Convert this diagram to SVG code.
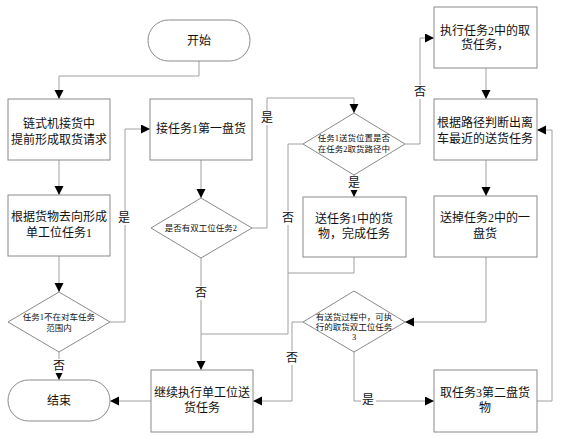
<svg xmlns="http://www.w3.org/2000/svg" width="561" height="438" viewBox="0 0 561 438">
<style>
.n{fill:#fff;stroke:#8a8a8a;stroke-width:1}
.t{font-family:"Liberation Serif","Noto Sans CJK SC",serif;font-size:12px;fill:#111;text-anchor:middle;dominant-baseline:central}
.s{font-family:"Liberation Serif","Noto Sans CJK SC",serif;font-size:8.5px;fill:#111;text-anchor:middle;dominant-baseline:central}
.c{fill:none;stroke:#a0a0a0;stroke-width:1}
.lb{font-family:"Liberation Serif","Noto Sans CJK SC",serif;font-size:12px;fill:#111;text-anchor:middle;dominant-baseline:central}
</style>
<defs>
<marker id="a" markerUnits="userSpaceOnUse" markerWidth="10" markerHeight="10" refX="9" refY="4.5" orient="auto">
<path d="M0,0 L9,4.5 L0,9 z" fill="#000"/>
</marker>
</defs>
<rect width="561" height="438" fill="#fff"/>
<g id="connectors">
<path class="c" d="M199,61 V76 H59 V99" marker-end="url(#a)"/>
<path class="c" d="M59,160 V195" marker-end="url(#a)"/>
<path class="c" d="M59,256 V292" marker-end="url(#a)"/>
<path class="c" d="M110,322 H125 V129 H150" marker-end="url(#a)"/>
<path class="c" d="M59,352 V380" marker-end="url(#a)"/>
<path class="c" d="M201,160 V198" marker-end="url(#a)"/>
<path class="c" d="M252,228 H267 V98 H354 V113" marker-end="url(#a)"/>
<path class="c" d="M201,258 V370" marker-end="url(#a)"/>
<path class="c" d="M303,144 H288 V334 H201"/>
<path class="c" d="M354,257 V273 H288"/>
<path class="c" d="M354,175 V197" marker-end="url(#a)"/>
<path class="c" d="M405,144 H420 V38 H434" marker-end="url(#a)"/>
<path class="c" d="M486,68 V99" marker-end="url(#a)"/>
<path class="c" d="M486,160 V196" marker-end="url(#a)"/>
<path class="c" d="M486,257 V322 H405" marker-end="url(#a)"/>
<path class="c" d="M303,322 H292 V401 H253" marker-end="url(#a)"/>
<path class="c" d="M354,352 V401 H434" marker-end="url(#a)"/>
<path class="c" d="M537,401 H552 V130 H537" marker-end="url(#a)"/>
<path class="c" d="M151,401 H110" marker-end="url(#a)"/>
<g fill="#fff">
<rect x="117" y="211" width="15" height="14"/>
<rect x="260" y="111" width="15" height="14"/>
<rect x="52" y="359" width="15" height="14"/>
<rect x="194" y="286" width="15" height="14"/>
<rect x="347" y="176" width="15" height="14"/>
<rect x="413" y="85" width="15" height="14"/>
<rect x="281" y="211" width="15" height="14"/>
<rect x="285" y="351" width="15" height="14"/>
<rect x="361" y="394" width="15" height="14"/>
</g>
<text class="lb" x="124" y="218">是</text>
<text class="lb" x="267" y="118">是</text>
<text class="lb" x="59" y="366">否</text>
<text class="lb" x="201" y="293">否</text>
<text class="lb" x="354" y="183">是</text>
<text class="lb" x="420" y="92">否</text>
<text class="lb" x="288" y="218">否</text>
<text class="lb" x="292" y="358">否</text>
<text class="lb" x="368" y="400">是</text>
</g>
<g id="start"><rect class="n" x="148" y="20" width="102" height="41" rx="20.5"/><text class="t" x="199" y="40.5">开始</text></g>
<g id="box1"><rect class="n" x="8" y="99" width="102" height="61"/><text class="t" x="59" y="124">链式机接货中</text><text class="t" x="59" y="140">提前形成取货请求</text></g>
<g id="box2"><rect class="n" x="150" y="99" width="102" height="61"/><text class="t" x="201" y="129">接任务1第一盘货</text></g>
<g id="box3"><rect class="n" x="8" y="195" width="102" height="61"/><text class="t" x="59" y="217">根据货物去向形成</text><text class="t" x="59" y="233">单工位任务1</text></g>
<g id="dec1"><polygon class="n" points="59,292 110,322 59,352 8,322"/><text class="s" x="59" y="317">任务1不在对车任务</text><text class="s" x="59" y="328">范围内</text></g>
<g id="end"><rect class="n" x="8" y="380" width="102" height="41" rx="20.5"/><text class="t" x="59" y="401">结束</text></g>
<g id="dec2"><polygon class="n" points="201,198 252,228 201,258 151,228"/><text class="s" x="201" y="228">是否有双工位任务2</text></g>
<g id="box5"><rect class="n" x="151" y="370" width="102" height="62"/><text class="t" x="202" y="393">继续执行单工位送</text><text class="t" x="202" y="408">货任务</text></g>
<g id="dec3"><polygon class="n" points="354,113 405,144 354,175 303,144"/><text class="s" x="354" y="138">任务1送货位置是否</text><text class="s" x="354" y="149">在任务2取货路径中</text></g>
<g id="box4"><rect class="n" x="303" y="197" width="103" height="60"/><text class="t" x="354" y="219">送任务1中的货</text><text class="t" x="354" y="234">物，完成任务</text></g>
<g id="box6"><rect class="n" x="434" y="7" width="103" height="61"/><text class="t" x="485" y="31">执行任务2中的取</text><text class="t" x="485" y="45">货任务，</text></g>
<g id="box7"><rect class="n" x="434" y="99" width="103" height="61"/><text class="t" x="485" y="123">根据路径判断出离</text><text class="t" x="485" y="139">车最近的送货任务</text></g>
<g id="box8"><rect class="n" x="434" y="196" width="103" height="61"/><text class="t" x="485" y="218">送掉任务2中的一</text><text class="t" x="485" y="234">盘货</text></g>
<g id="dec4"><polygon class="n" points="354,291 405,322 354,352 303,322"/><text class="s" x="354" y="317">有送货过程中，可执</text><text class="s" x="354" y="327">行的取货双工位任务</text><text class="s" x="354" y="337">3</text></g>
<g id="box9"><rect class="n" x="434" y="370" width="103" height="62"/><text class="t" x="485" y="393">取任务3第二盘货</text><text class="t" x="485" y="408">物</text></g>
</svg>
